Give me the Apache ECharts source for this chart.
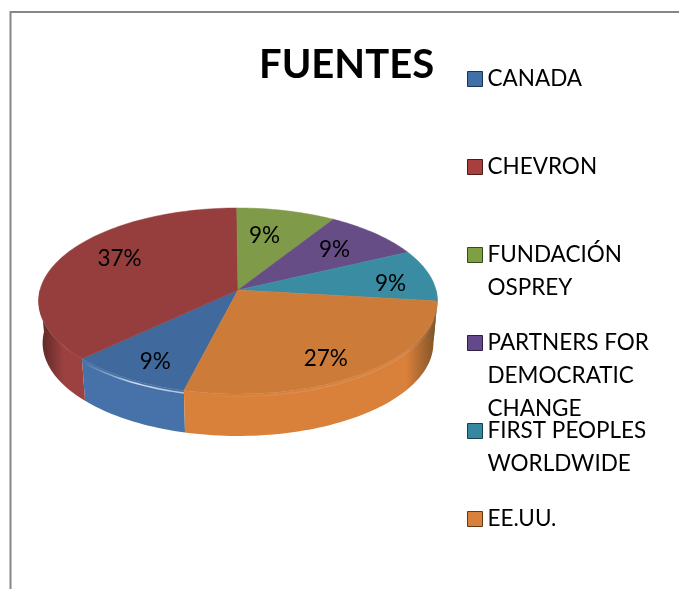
<!DOCTYPE html>
<html><head><meta charset="utf-8">
<style>html,body{margin:0;padding:0;background:#fff}#c{width:679px;height:589px}</style>
<script src="https://cdn.jsdelivr.net/npm/echarts@6/dist/echarts.min.js"></script>
</head><body><div id="c"></div>
<script>
const categories = ["CANADA","CHEVRON","FUNDACIÓN OSPREY","PARTNERS FOR DEMOCRATIC CHANGE","FIRST PEOPLES WORLDWIDE","EE.UU."];
const legendLines = [["CANADA"],["CHEVRON"],["FUNDACIÓN","OSPREY"],["PARTNERS FOR","DEMOCRATIC","CHANGE"],["FIRST PEOPLES","WORLDWIDE"],["EE.UU."]];
const values = [9,37,9,9,9,27];
const topColors = ["#406a9d","#953e3d","#7f9a48","#664d85","#3a8ca3","#cc7b38"];
const wallColors = ["#4672a9","#9c4140","#85a04c","#6b5190","#3e93ab","#d9803b"];
const edgeColors = ["#2b4a72","#5a2726","#55682f","#44345a","#275f70","#7a5026"];
const legendFill = ["#3f70a8","#a83f3d","#7f9f43","#65478c","#35889f","#d9803b"];
const legendEdge = ["#1d3350","#4a1c1b","#38471e","#2e2040","#18404b","#5f3818"];
const legendRowY = [79,167,255,343,431,519];
const labelTurn = [-2,7,-3,0,4,4];
const labelRadius = [0.81,0.72,0.65,0.69,0.78,0.80];
const rimGlow = [0.85,0,0,0,0,0.12];

const CX=238, CY=290, B=198, A=91.7, K=0.118, H=42, BS=0.98, START=194;
const LH=33, FS=22.5, FONT='Lato, "Open Sans", sans-serif';
const total = values.reduce((a,b)=>a+b,0);
const starts = []; values.reduce((acc,v,i)=>{starts[i]=acc;return acc+v/total*360;},START);

function pt(deg,r,dy,sx){
  const t=deg*Math.PI/180,u=Math.sin(t)*r,v=-Math.cos(t)*r,d=1-K*v;
  return [CX+1+(B*u/d-1)*(sx||1), CY+A*v/d+(dy||0)];
}
function arc(a,b,dy,sx){
  const n=Math.max(2,Math.ceil(Math.abs(b-a)/1.5)),p=[];
  for(let i=0;i<=n;i++)p.push(pt(a+(b-a)*i/n,1,dy,sx));
  return p;
}
function wallRange(a,b){
  const s=[];
  for(const off of [0,360]){
    const lo=Math.max(a,90+off),hi=Math.min(b,270+off);
    if(hi>lo)s.push([lo,hi]);
  }
  return s;
}
function renderSlice(params,api){
  const i=params.seriesIndex,val=api.value(0);
  const a=starts[i],b=a+val/total*360,kids=[];
  wallRange(a,b).forEach(([lo,hi])=>{
    const poly=arc(lo,hi,0).concat(arc(lo,hi,H,BS).reverse());
    kids.push({type:'polygon',shape:{points:poly},style:{
      fill:new echarts.graphic.LinearGradient(40,0,438,0,[
        {offset:0,color:edgeColors[i]},{offset:0.06,color:wallColors[i]},
        {offset:0.92,color:wallColors[i]},{offset:1,color:edgeColors[i]}],true),
      stroke:null}});
    if(rimGlow[i]>0){
      const pts=arc(lo,hi,2.5),x0=pts[0][0],x1=pts[pts.length-1][0];
      kids.push({type:'polyline',shape:{points:pts},style:{fill:null,lineWidth:1.5,opacity:rimGlow[i],
        stroke:new echarts.graphic.LinearGradient(x0,0,x1,0,[
          {offset:0,color:'rgba(235,243,250,0.75)'},{offset:0.45,color:'rgba(235,243,250,1)'},
          {offset:1,color:'rgba(235,243,250,0)'}],true)}});
    }
  });
  kids.push({type:'polygon',shape:{points:[[CX,CY]].concat(arc(a,b,0))},
    style:{fill:topColors[i],stroke:topColors[i],lineWidth:0.5}});
  const p=pt((a+b)/2+labelTurn[i],labelRadius[i]);
  kids.push({type:'text',z2:10,style:{x:p[0],y:p[1],text:val+'%',fill:'#000',
    font:FS+'px '+FONT,align:'center',verticalAlign:'middle'}});
  return {type:'group',children:kids};
}
const series=categories.map((name,i)=>({type:'custom',name,coordinateSystem:'none',
  renderItem:renderSlice,data:[[values[i]]],itemStyle:{color:legendFill[i]},silent:true,animation:false}));
const legend=categories.map((name,i)=>{
  const n=legendLines[i].length;
  const text=Array(n-1).fill('\u00a0').concat(legendLines[i]).join('\n');
  return {data:[name],left:467,top:legendRowY[i]-LH*(2*n-1)/2,orient:'vertical',padding:0,
    icon:'rect',itemWidth:15,itemHeight:15,selectedMode:false,
    itemStyle:{color:legendFill[i],borderColor:legendEdge[i],borderWidth:1},
    formatter:()=>text,
    textStyle:{color:'#000',fontFamily:FONT,fontSize:FS,lineHeight:LH}};
});
const chart=echarts.init(document.getElementById('c'),null,{renderer:'canvas'});
chart.setOption({
  animation:false,backgroundColor:'#fff',
  title:{text:'FUENTES',left:259,top:45,padding:0,textStyle:{color:'#000',fontFamily:FONT,fontWeight:'bold',fontSize:40}},
  legend,series,
  graphic:[{type:'rect',shape:{x:10.5,y:12,width:800,height:800},style:{fill:null,stroke:'#868686',lineWidth:2},silent:true}]
});
</script></body></html>
